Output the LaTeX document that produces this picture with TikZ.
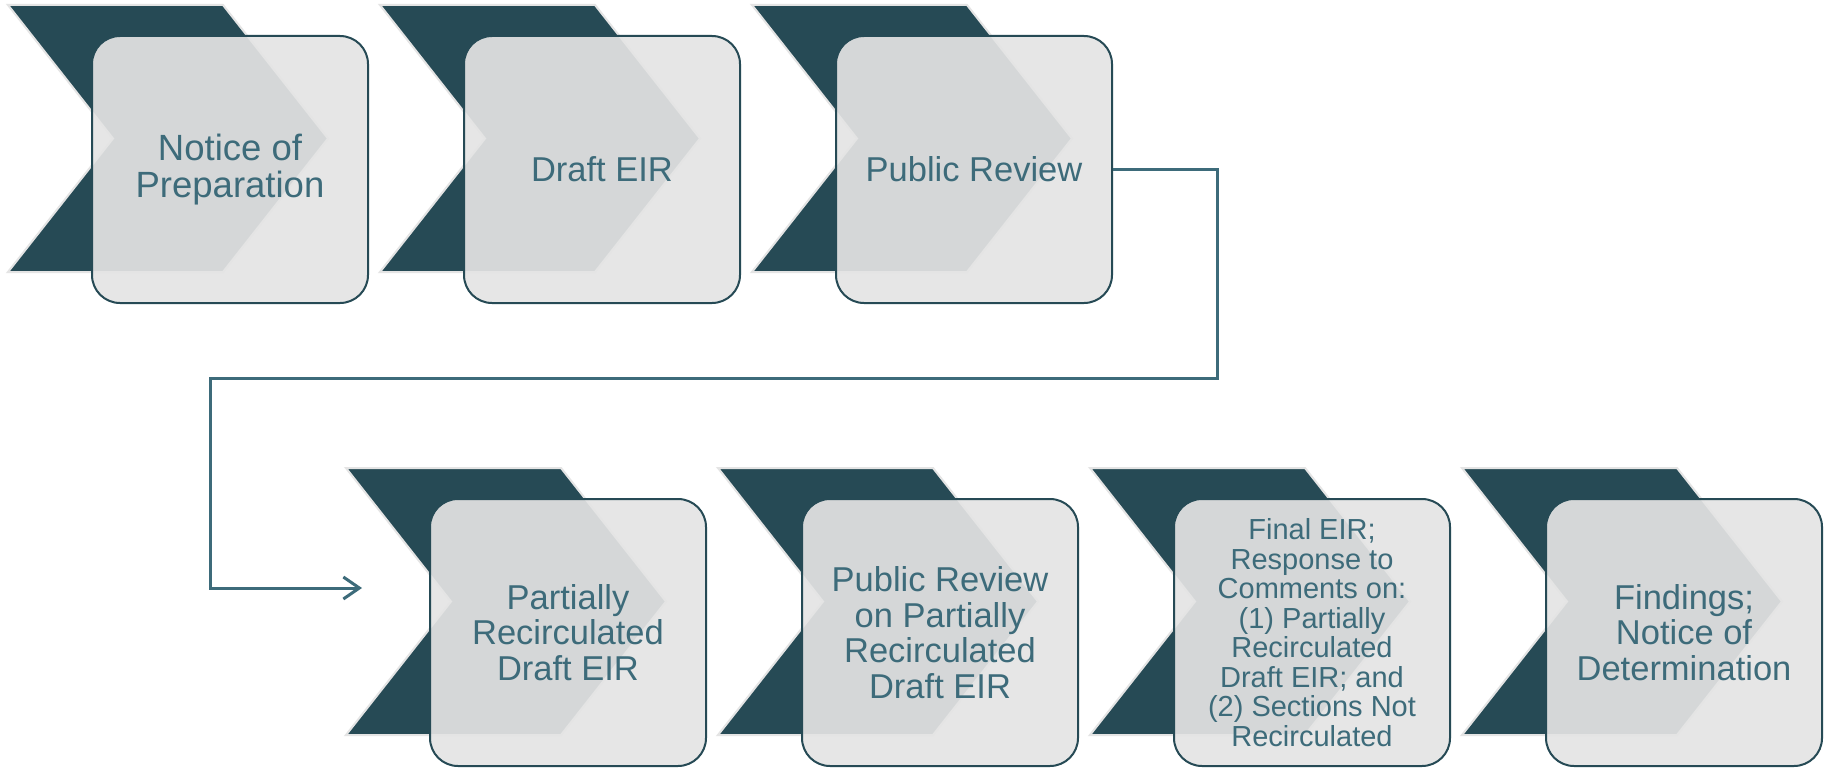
\documentclass[tikz,border=0pt]{standalone}
\usepackage{fontspec}
\setmainfont{Liberation Sans}
\usetikzlibrary{arrows.meta}
\definecolor{chevfill}{RGB}{38,74,85}
\definecolor{chevline}{RGB}{228,228,228}
\definecolor{boxfill}{RGB}{228,228,228}
\definecolor{boxline}{RGB}{38,74,85}
\definecolor{txtcol}{RGB}{61,107,122}
\newcommand{\chevshape}[2]{%
  \draw[chev] (#1,#2) -- ++(215,0) -- ++(105,133.5) -- ++(-105,133.5) -- ++(-215,0) -- ++(105,-133.5) -- cycle;}
\tikzset{
  chev/.style={fill=chevfill, draw=chevline, line width=2pt, line join=miter},
  stepbox/.style={draw=boxline, line width=2pt, fill=boxfill, fill opacity=0.92, text opacity=1,
    rounded corners=28pt, minimum width=276pt, minimum height=267pt, inner sep=0pt,
    align=center, text=txtcol, font=\fontsize{34.5}{35.5}\selectfont},
  toptext/.style={font=\fontsize{36.5}{37}\selectfont},
  smalltext/.style={font=\fontsize{29}{29.5}\selectfont},
  conn/.style={draw=txtcol, line width=3pt, line join=miter}
}
\begin{document}
\begin{tikzpicture}[x=1pt,y=-1pt]
\useasboundingbox[fill=white] (0,0) rectangle (1825,768);
% top row
\chevshape{8}{5}
\node[stepbox,toptext] (b1) at (230,169.5) {Notice of\\Preparation};
\chevshape{380}{5}
\node[stepbox] (b2) at (602,169.5) {Draft EIR};
\chevshape{752}{5}
\node[stepbox] (b3) at (974,169.5) {Public Review};
% bottom row
\chevshape{346}{468}
\node[stepbox] (b4) at (568,632.5) {Partially\\Recirculated\\Draft EIR};
\chevshape{718}{468}
\node[stepbox] (b5) at (940,632.5) {Public Review\\on Partially\\Recirculated\\Draft EIR};
\chevshape{1090}{468}
\node[stepbox,smalltext] (b6) at (1312,632.5) {Final EIR;\\Response to\\Comments on:\\(1) Partially\\Recirculated\\Draft EIR; and\\(2) Sections Not\\Recirculated};
\chevshape{1462}{468}
\node[stepbox] (b7) at (1684,632.5) {Findings;\\Notice of\\Determination};
% connector
\coordinate (c1) at (1217,378);
\coordinate (c2) at (210,378);
\coordinate (c3) at (210,588);
\coordinate (c4) at (362,588);
\draw[conn, -{Straight Barb[length=16pt,width=22pt,line width=3pt]}] (b3.east) -| (c1) -- (c2) -- (c3) -- (c4);
\end{tikzpicture}
\end{document}
